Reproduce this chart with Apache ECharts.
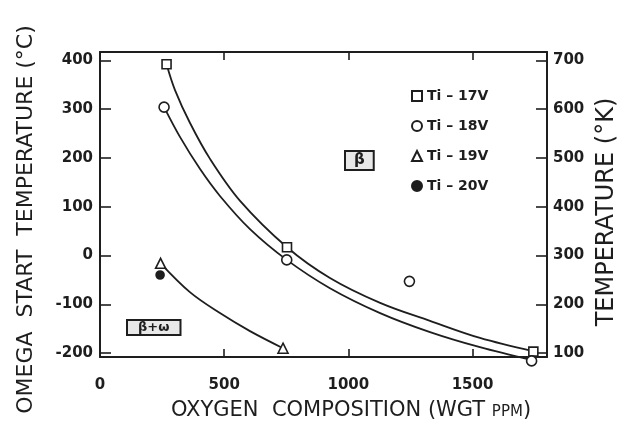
<!DOCTYPE html>
<html>
<head>
<meta charset="utf-8">
<script src="https://cdn.jsdelivr.net/npm/echarts@6/dist/echarts.min.js"></script>
<style>
html,body{margin:0;padding:0;background:#fff;}
#chart{width:628px;height:442px;}
</style>
</head>
<body>
<div id="chart"></div>
<script>
// ---- data ----
const xTickValues = [500, 1000, 1500];
const xLabelValues = [0, 500, 1000, 1500];
const leftTickValues = [-200, -100, 0, 100, 200, 300, 400];
const rightTickValues = [100, 200, 300, 400, 500, 600, 700];

const legendNames = ['Ti – 17V', 'Ti – 18V', 'Ti – 19V', 'Ti – 20V'];

const ti17X = [268, 753, 1745];
const ti17Y = [392, 17, -197];
const ti18X = [258, 752, 1246, 1738];
const ti18Y = [304, -9, -53, -216];
const ti19X = [244, 737];
const ti19Y = [-16, -190];
const ti20X = [242];
const ti20Y = [-40];

// fitted curves as drawn in the figure
const curve17X = [268, 302, 362, 443, 564, 753, 926, 1128, 1329, 1530, 1743];
const curve17Y = [392, 339, 272, 198, 112, 17, -46, -97, -134, -169, -196];
const curve18X = [258, 322, 403, 483, 604, 752, 926, 1128, 1329, 1530, 1735];
const curve18Y = [304, 243, 177, 122, 54, -9, -67, -118, -157, -188, -214];
const curve19X = [244, 362, 483, 604, 737];
const curve19Y = [-16, -75, -118, -155, -190];

const zip = (xs, ys) => xs.map((x, i) => [x, ys[i]]);

const INK = '#1e1e1e';
const FONT = 'DejaVu Sans';
const Y_MIN = -208, Y_MAX = 417, K_OFFSET = 300;

const chart = echarts.init(document.getElementById('chart'), null, {renderer: 'canvas'});

const axisLineStyle = {color: INK, width: 2};
const plainNumber = v => String(v);

function curveSeries(name, xs, ys) {
  return {
    name: name, type: 'line', data: zip(xs, ys), smooth: 0.35,
    showSymbol: false, clip: false, silent: true, z: 2,
    lineStyle: {color: INK, width: 1.8}
  };
}
function pointSeries(name, xs, ys, symbol, size, fill) {
  return {
    name: name, type: 'scatter', data: zip(xs, ys), symbol: symbol, symbolSize: size,
    clip: false, z: 5,
    itemStyle: {color: fill, borderColor: INK, borderWidth: 1.6, opacity: 1}
  };
}

chart.setOption({
  backgroundColor: '#ffffff',
  animation: false,
  grid: {left: 100, right: 81, top: 52, bottom: 85},
  xAxis: [
    {
      type: 'value', position: 'bottom', min: 0, max: 1800,
      axisLine: {show: true, onZero: false, lineStyle: axisLineStyle},
      axisTick: {show: true, inside: true, length: 8, lineStyle: {color: INK, width: 1.6}, customValues: xTickValues},
      axisLabel: {color: INK, fontFamily: FONT, fontSize: 15, fontWeight: 'bold', margin: 21,
        customValues: xLabelValues, formatter: plainNumber},
      splitLine: {show: false},
      name: '{a|OXYGEN  COMPOSITION (WGT }{b|PPM}{a|)}',
      nameLocation: 'middle', nameGap: 43,
      nameTextStyle: {
        padding: [0, 0, 0, 55],
        rich: {
          a: {fontFamily: FONT, fontSize: 21, color: INK},
          b: {fontFamily: FONT, fontSize: 15, color: INK, padding: [3, 0, 0, 0]}
        }
      }
    },
    {
      type: 'value', position: 'top', min: 0, max: 1800,
      axisLine: {show: true, onZero: false, lineStyle: axisLineStyle},
      axisTick: {show: true, inside: true, length: 8, lineStyle: {color: INK, width: 1.6}, customValues: xTickValues},
      axisLabel: {show: false},
      splitLine: {show: false}
    }
  ],
  yAxis: [
    {
      type: 'value', position: 'left', min: Y_MIN, max: Y_MAX,
      axisLine: {show: true, onZero: false, lineStyle: axisLineStyle},
      axisTick: {show: true, inside: true, length: 11, lineStyle: {color: INK, width: 1.6}, customValues: leftTickValues},
      axisLabel: {color: INK, fontFamily: FONT, fontSize: 15, fontWeight: 'bold', margin: 7,
        customValues: leftTickValues, formatter: plainNumber},
      splitLine: {show: false},
      name: 'OMEGA  START  TEMPERATURE (°C)',
      nameLocation: 'middle', nameGap: 63,
      nameTextStyle: {fontFamily: FONT, fontSize: 22, color: INK, padding: [0, 30, 0, 0]}
    },
    {
      type: 'value', position: 'right', min: Y_MIN + K_OFFSET, max: Y_MAX + K_OFFSET,
      axisLine: {show: true, onZero: false, lineStyle: axisLineStyle},
      axisTick: {show: true, inside: true, length: 11, lineStyle: {color: INK, width: 1.6}, customValues: rightTickValues},
      axisLabel: {color: INK, fontFamily: FONT, fontSize: 15, fontWeight: 'bold', margin: 6,
        customValues: rightTickValues, formatter: plainNumber},
      splitLine: {show: false},
      name: 'TEMPERATURE (°K)',
      nameLocation: 'middle', nameGap: 41,
      nameTextStyle: {fontFamily: FONT, fontSize: 24, color: INK, padding: [0, 15, 0, 0]}
    }
  ],
  legend: {
    data: legendNames,
    orient: 'vertical', left: 406, top: 83,
    itemWidth: 10, itemHeight: 10, itemGap: 14,
    textStyle: {fontFamily: FONT, fontSize: 14, fontWeight: 'bold', color: INK, lineHeight: 16}
  },
  graphic: [
    {
      type: 'text', left: 344, top: 150, silent: true,
      style: {text: 'β', font: 'bold 15px "DejaVu Sans"', fill: INK,
        borderColor: INK, borderWidth: 2, padding: [1, 8, 1, 8], backgroundColor: '#e8e8e8'}
    },
    {
      type: 'text', left: 126, top: 319, silent: true,
      style: {text: 'β+ω', font: 'bold 13px "DejaVu Sans"', fill: INK,
        borderColor: INK, borderWidth: 2, padding: [0, 10, 0, 10], backgroundColor: '#e8e8e8'}
    }
  ],
  series: [
    curveSeries('curve17', curve17X, curve17Y),
    curveSeries('curve18', curve18X, curve18Y),
    curveSeries('curve19', curve19X, curve19Y),
    pointSeries(legendNames[0], ti17X, ti17Y, 'rect', 9, '#ffffff'),
    pointSeries(legendNames[1], ti18X, ti18Y, 'circle', 10, '#ffffff'),
    pointSeries(legendNames[2], ti19X, ti19Y, 'triangle', 10, '#ffffff'),
    pointSeries(legendNames[3], ti20X, ti20Y, 'circle', 8, INK)
  ]
});
</script>
</body>
</html>
